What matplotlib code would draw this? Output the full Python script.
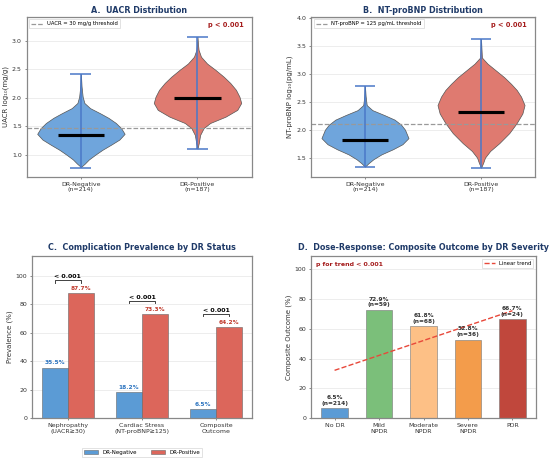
import numpy as np
import matplotlib
matplotlib.use("Agg")
import matplotlib.pyplot as plt

# ---- data ----
groups = ["DR-Negative\n(n=214)", "DR-Positive\n(n=187)"]

# violin outlines: y level and relative half-width (1 = widest)
uacr_neg_y = [0.79, 0.85, 0.92, 1.00, 1.09, 1.18, 1.27, 1.37, 1.47, 1.56, 1.65, 1.73, 1.82, 1.91, 2.02, 2.20, 2.42]
uacr_neg_w = [0.0, 0.09, 0.18, 0.32, 0.49, 0.69, 0.88, 1.00, 0.92, 0.80, 0.63, 0.44, 0.21, 0.08, 0.04, 0.015, 0.0]
uacr_pos_y = [1.11, 1.21, 1.35, 1.47, 1.56, 1.67, 1.79, 1.91, 2.02, 2.14, 2.26, 2.37, 2.49, 2.60, 2.72, 2.84, 2.95, 3.07]
uacr_pos_w = [0.0, 0.03, 0.06, 0.14, 0.29, 0.64, 0.91, 1.00, 0.96, 0.88, 0.75, 0.60, 0.41, 0.22, 0.08, 0.025, 0.01, 0.0]
uacr_median = [1.35, 2.00]
uacr_min = [0.78, 1.10]
uacr_max = [2.42, 3.07]
uacr_thr = np.log10(30)

bnp_neg_y = [1.34, 1.40, 1.47, 1.56, 1.65, 1.74, 1.85, 2.00, 2.09, 2.18, 2.26, 2.35, 2.44, 2.60, 2.78]
bnp_neg_w = [0.0, 0.08, 0.19, 0.38, 0.64, 0.86, 1.00, 0.92, 0.83, 0.68, 0.45, 0.17, 0.04, 0.015, 0.0]
bnp_pos_y = [1.32, 1.41, 1.50, 1.62, 1.76, 1.94, 2.12, 2.29, 2.44, 2.59, 2.71, 2.82, 2.94, 3.06, 3.18, 3.29, 3.45, 3.62]
bnp_pos_w = [0.0, 0.05, 0.09, 0.21, 0.42, 0.65, 0.82, 0.95, 1.00, 0.92, 0.82, 0.69, 0.53, 0.34, 0.15, 0.02, 0.01, 0.0]
bnp_median = [1.82, 2.32]
bnp_min = [1.34, 1.32]
bnp_max = [2.78, 3.62]
bnp_thr = np.log10(125)

complications = ["Nephropathy\n(UACR≥30)", "Cardiac Stress\n(NT-proBNP≥125)", "Composite\nOutcome"]
prev_neg = [35.5, 18.2, 6.5]
prev_pos = [87.7, 73.3, 64.2]

severity = ["No DR", "Mild\nNPDR", "Moderate\nNPDR", "Severe\nNPDR", "PDR"]
composite = [6.5, 72.9, 61.8, 52.8, 66.7]
sev_n = [214, 59, 68, 36, 24]

# ---- style ----
blue_body = "#6fa5dc"
red_body = "#df7a70"
stem_col = "#4a78c8"
bar_blue = "#5b9bd5"
bar_red = "#dc665b"
sev_colors = ["#5b9bd5", "#7bbf7a", "#fdc086", "#f39c4b", "#c0473c"]
title_col = "#1f3a68"
pcol = "#a51c1c"

fig = plt.figure(figsize=(11, 9.24), dpi=50)
W, H = 550, 462


def place(l, r, t, b):
    return fig.add_axes([l / W, 1 - b / H, (r - l) / W, (b - t) / H])


def style(ax):
    for s in ax.spines.values():
        s.set_color("#888888")
        s.set_linewidth(1.8)
    ax.grid(axis="y", color="#e6e6e6", linewidth=1)
    ax.set_axisbelow(True)
    ax.tick_params(labelsize=9, colors="#333333")


def violin_panel(ax, shapes, med, lo, hi, thr, thr_label, ylabel, title):
    stats = []
    for (yy, ww), m, a, b in zip(shapes, med, lo, hi):
        stats.append(dict(coords=np.array(yy), vals=np.array(ww), mean=m,
                          median=m, min=a, max=b))
    pos = [0, 1]
    parts = ax.violin(stats, positions=pos, widths=0.75, showextrema=False,
                      showmedians=False)
    for body, c in zip(parts["bodies"], [blue_body, red_body]):
        body.set_facecolor(c)
        body.set_edgecolor("#555555")
        body.set_linewidth(1)
        body.set_alpha(1)
    ax.vlines(pos, lo, hi, color=stem_col, linewidth=2.2, zorder=3)
    ax.hlines(lo, [p - 0.09 for p in pos], [p + 0.09 for p in pos], color=stem_col, linewidth=2.2, zorder=3)
    ax.hlines(hi, [p - 0.09 for p in pos], [p + 0.09 for p in pos], color=stem_col, linewidth=2.2, zorder=3)
    ax.hlines(med, [p - 0.2 for p in pos], [p + 0.2 for p in pos], color="black", linewidth=4.5, zorder=4)
    ax.axhline(thr, color="#999999", linestyle="--", linewidth=1.8, label=thr_label, zorder=2)
    ax.set_xticks(pos)
    ax.set_xticklabels(groups)
    ax.set_xlim(-0.465, 1.465)
    ax.set_ylabel(ylabel, fontsize=10, color="#333333")
    ax.set_title(title, fontsize=11.5, fontweight="bold", color=title_col, pad=5)
    ax.legend(loc="upper left", fontsize=7.5, frameon=True, borderpad=0.4,
              handlelength=2.2, fancybox=False, edgecolor="#cccccc")
    ax.text(0.965, 0.945, "p < 0.001", transform=ax.transAxes, ha="right", va="center",
            fontsize=9.5, fontweight="bold", color=pcol)


# A
axA = place(26.7, 251.7, 16.7, 176.7)
style(axA)
violin_panel(axA, [(uacr_neg_y, uacr_neg_w), (uacr_pos_y, uacr_pos_w)],
             uacr_median, uacr_min, uacr_max, uacr_thr, "UACR = 30 mg/g threshold",
             "UACR log₁₀(mg/g)", "A.  UACR Distribution")
axA.set_ylim(0.62, 3.42)
axA.set_yticks([1.0, 1.5, 2.0, 2.5, 3.0])

# B
axB = place(311, 535, 16.7, 176.7)
style(axB)
violin_panel(axB, [(bnp_neg_y, bnp_neg_w), (bnp_pos_y, bnp_pos_w)],
             bnp_median, bnp_min, bnp_max, bnp_thr, "NT-proBNP = 125 pg/mL threshold",
             "NT-proBNP log₁₀(pg/mL)", "B.  NT-proBNP Distribution")
axB.set_ylim(1.16, 4.02)
axB.set_yticks([1.5, 2.0, 2.5, 3.0, 3.5, 4.0])

# C
axC = place(32, 252, 256, 418)
style(axC)
x = np.arange(len(complications))
bw = 0.35
axC.bar(x - bw / 2, prev_neg, bw, color=bar_blue, edgecolor="#666666", linewidth=0.8, label="DR-Negative")
axC.bar(x + bw / 2, prev_pos, bw, color=bar_red, edgecolor="#666666", linewidth=0.8, label="DR-Positive")
for i in range(len(x)):
    axC.text(x[i] - bw / 2, prev_neg[i] + 1.5, f"{prev_neg[i]:.1f}%", ha="center", va="bottom",
             fontsize=8.5, fontweight="bold", color="#2e75c0")
    axC.text(x[i] + bw / 2, prev_pos[i] + 1.5, f"{prev_pos[i]:.1f}%", ha="center", va="bottom",
             fontsize=8.5, fontweight="bold", color="#c0392b")
    yb = prev_pos[i] + 9.3
    axC.plot([x[i] - bw / 2, x[i] - bw / 2, x[i] + bw / 2, x[i] + bw / 2],
             [yb - 2, yb, yb, yb - 2], color="#333333", linewidth=1.3)
    axC.text(x[i], yb + 0.6, "< 0.001", ha="center", va="bottom", fontsize=9, fontweight="bold")
axC.set_xticks(x)
axC.set_xticklabels(complications)
axC.set_ylim(0, 114)
axC.set_yticks([0, 20, 40, 60, 80, 100])
axC.set_ylabel("Prevalence (%)", fontsize=10, color="#333333")
axC.set_title("C.  Complication Prevalence by DR Status", fontsize=11.5, fontweight="bold",
              color=title_col, pad=8)
axC.legend(loc="upper center", bbox_to_anchor=(0.5, -0.165), ncol=2, fontsize=8,
           fancybox=False, edgecolor="#cccccc", handlelength=2.5, columnspacing=2.5)

# D
axD = place(311, 536, 256, 418)
style(axD)
xs = np.arange(len(severity))
axD.bar(xs, composite, 0.6, color=sev_colors, edgecolor="#777777", linewidth=0.8)
for i in range(len(xs)):
    axD.text(xs[i], composite[i] + 1.5, f"{composite[i]:.1f}%\n(n={sev_n[i]})", ha="center",
             va="bottom", fontsize=8.5, fontweight="bold", color="#333333", linespacing=1.2)
coef = np.polyfit(xs, composite, 1)
axD.plot(xs, np.polyval(coef, xs), color="#e8483a", linestyle="--", linewidth=2, label="Linear trend")
axD.set_xticks(xs)
axD.set_xticklabels(severity)
axD.set_ylim(0, 109)
axD.set_yticks([0, 20, 40, 60, 80, 100])
axD.set_ylabel("Composite Outcome (%)", fontsize=10, color="#333333")
axD.set_title("D.  Dose-Response: Composite Outcome by DR Severity", fontsize=11.5,
              fontweight="bold", color=title_col, pad=8)
axD.legend(loc="upper right", fontsize=7.5, fancybox=False, edgecolor="#cccccc")
axD.text(0.02, 0.945, "p for trend < 0.001", transform=axD.transAxes, ha="left", va="center",
         fontsize=9, fontweight="bold", color=pcol)

fig.savefig("out.png", dpi=50)
